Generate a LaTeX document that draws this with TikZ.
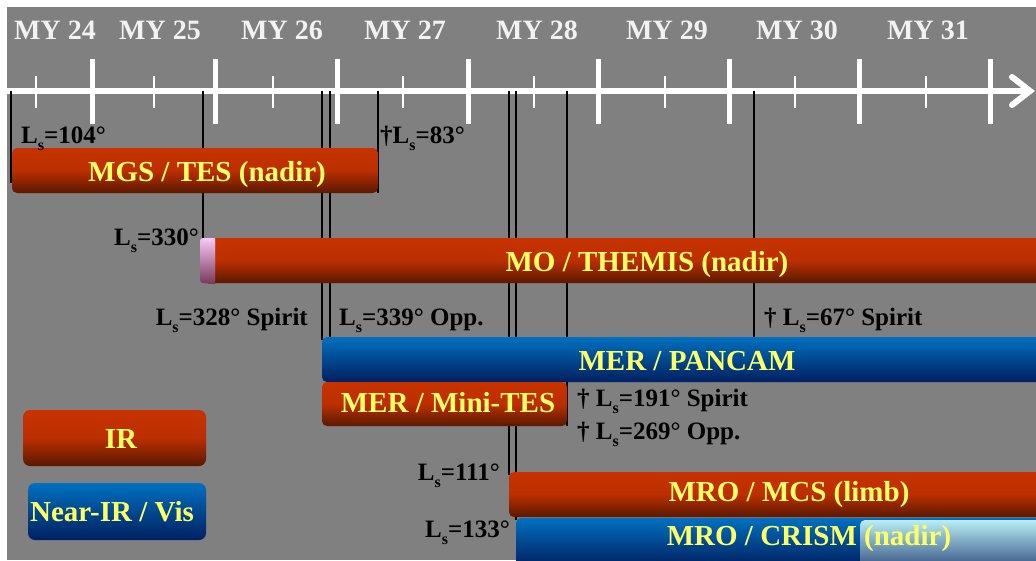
\documentclass[tikz,border=0pt]{standalone}
\usepackage{fontspec}
\setmainfont{Liberation Serif}
\usepackage{tikz}
\usetikzlibrary{calc,positioning}
\definecolor{bgc}{HTML}{808080}
\definecolor{redt}{HTML}{C83200}
\definecolor{redb}{HTML}{5A1800}
\definecolor{bluet}{HTML}{0070C0}
\definecolor{blueb}{HTML}{002060}
\definecolor{barfont}{HTML}{FFFF66}
\definecolor{pinkt}{HTML}{F8C8F8}
\definecolor{pinkb}{HTML}{7A3A5A}
\definecolor{icet}{HTML}{B8EEF4}
\definecolor{iceb}{HTML}{3C5A88}
\definecolor{myc}{HTML}{F2F2F2}
\newcommand\Ls{L\raisebox{-.28em}{\fontsize{16}{16}\selectfont s}}
\tikzset{
  irbar/.style={top color=redt,bottom color=redb,middle color=redt!88!redb,rounded corners=5pt},
  visbar/.style={top color=bluet,bottom color=blueb,rounded corners=5pt},
  icebar/.style={top color=icet,bottom color=iceb,rounded corners=5pt},
  capbar/.style={top color=pinkt,bottom color=pinkb},
  bartxt/.style={font=\bfseries\fontsize{29}{30}\selectfont,text=barfont,inner sep=0pt,anchor=base},
  lstxt/.style={font=\bfseries\fontsize{25}{26}\selectfont,text=black,inner sep=0pt},
  mytxt/.style={font=\bfseries\fontsize{28}{30}\selectfont,text=myc,inner sep=0pt},
  epoch/.style={black,line width=2.8pt},
  majt/.style={white,line width=5pt},
  mint/.style={white,line width=2.5pt}
}

\begin{document}
\begin{tikzpicture}[x=1pt,y=-1pt]
\useasboundingbox (0,0) rectangle (1036,560);
\fill[white] (0,0) rectangle (1036,560);
\fill[bgc] (7,7) rectangle (1036,560);
% time axis
\coordinate (ax0) at (7,91);
\coordinate (axend) at (1030,91);
\draw[white,line width=6pt] (ax0) -- (axend);
\draw[white,line width=6pt,line cap=round] (1012,77) -- (axend) -- (1012,105);
\foreach \x in {92,215,337,468,598,729,859,990} \draw[majt] (\x,59) -- (\x,124);
\foreach \x in {36,154,273,403,534,665,795,926} \draw[mint] (\x,76) -- (\x,108);
\foreach \x/\y in {55/24,160/25,282/26,405/27,537/28,667/29,797/30,928/31}
  \node[mytxt] (my\y) at (\x,30) {MY \y};
% epoch markers
\foreach \x/\y in {11/183,203/240,322/340,330/340,378/193,509/475,516/520,567/426,754/340}
  \draw[epoch] (\x,91) -- (\x,\y);
% instrument bars
\shade[irbar] (12,148) rectangle (378,193);
\shade[irbar] (200,238) rectangle (1050,283);
\shade[capbar,rounded corners=3pt] (200,238) rectangle (215,283);
\shade[capbar] (208,238) rectangle (215,283);
\shade[visbar] (322,337) rectangle (1050,382);
\shade[irbar] (322,382) rectangle (567,426);
\shade[irbar] (509,472) rectangle (1050,517);
\shade[visbar] (516,518) rectangle (1050,566);
\shade[icebar] (860,520) rectangle (1050,566);
% legend
\shade[irbar,rounded corners=7pt] (23,410) rectangle (206,466);
\shade[visbar,rounded corners=7pt] (28,483) rectangle (206,540);
\node[bartxt] (mgs) at (207,181) {MGS / TES (nadir)};
\node[bartxt] (themis) at (647,271) {MO / THEMIS (nadir)};
\node[bartxt] (pancam) at (687,370) {MER / PANCAM};
\node[bartxt] (minites) at (448,412) {MER / Mini-TES};
\node[bartxt] (mcs) at (789,501) {MRO / MCS (limb)};
\node[bartxt] (crism) at (809,545) {MRO / CRISM (nadir)};
\node[bartxt] (irkey) at (121,448) {IR};
\node[bartxt] (viskey) at (112,521) {Near-IR / Vis};
% Ls labels
\node[lstxt,anchor=base west] (ls104) at (21,143) {\Ls=104°};
\node[lstxt,anchor=base west] (ls83) at (380,143) {†\Ls=83°};
\node[lstxt,anchor=base east] (ls330) at (199,245) {\Ls=330°};
\node[lstxt,anchor=base east] (ls328) at (308,325) {\Ls=328° Spirit};
\node[lstxt,anchor=base west] (ls339) at (339,325) {\Ls=339° Opp.};
\node[lstxt,anchor=base west] (ls67) at (764,325) {† \Ls=67° Spirit};
\node[lstxt,anchor=base west] (ls191) at (577,406) {† \Ls=191° Spirit};
\node[lstxt,anchor=base west] (ls269) at (577,439) {† \Ls=269° Opp.};
\node[lstxt,anchor=base east] (ls111) at (500,480) {\Ls=111°};
\node[lstxt,anchor=base east] (ls133) at (510,537) {\Ls=133°};
\end{tikzpicture}
\end{document}
